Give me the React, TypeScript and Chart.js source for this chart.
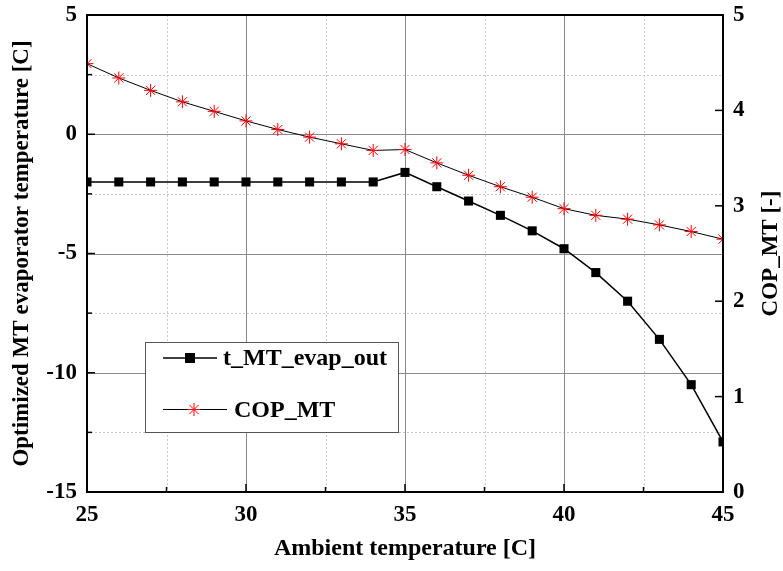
import React, { useEffect, useRef } from 'react';
import { Chart, registerables } from 'chart.js';

Chart.register(...registerables);

const ambientTemps = [25, 26, 27, 28, 29, 30, 31, 32, 33, 34, 35, 36, 37, 38, 39, 40, 41, 42, 43, 44, 45];
const evapTemps = [-2.0, -2.0, -2.0, -2.0, -2.0, -2.0, -2.0, -2.0, -2.0, -2.0, -1.6, -2.2, -2.8, -3.4, -4.05, -4.8, -5.8, -7.0, -8.6, -10.5, -12.9];
const copValues = [4.49, 4.34, 4.21, 4.09, 3.99, 3.89, 3.8, 3.72, 3.65, 3.58, 3.59, 3.45, 3.32, 3.2, 3.09, 2.97, 2.9, 2.86, 2.8, 2.73, 2.65];
const seriesNames = ['t_MT_evap_out', 'COP_MT'];
const xRange = [25, 45];
const leftRange = [-15, 5];
const rightRange = [0, 5];
const xTitle = 'Ambient temperature [C]';
const leftTitle = 'Optimized MT evaporator temperature [C]';
const rightTitle = 'COP_MT [-]';

const FONT = "'Liberation Serif', 'Times New Roman', serif";

const gridPlugin = {
  id: 'customGrid',
  beforeDatasetsDraw(chart: any) {
    const { ctx, chartArea: a, scales } = chart;
    const xs = scales.x, ys = scales.y;
    ctx.save();
    ctx.beginPath();
    ctx.rect(a.left, a.top, a.right - a.left, a.bottom - a.top);
    ctx.clip();
    ctx.strokeStyle = '#c8c8c8';
    ctx.lineWidth = 1;
    ctx.setLineDash([2, 2]);
    for (let v = xRange[0] + 2.5; v < xRange[1]; v += 5) {
      const p = Math.round(xs.getPixelForValue(v)) + 0.5;
      ctx.beginPath(); ctx.moveTo(p, a.top); ctx.lineTo(p, a.bottom); ctx.stroke();
    }
    for (let v = leftRange[0] + 2.5; v < leftRange[1]; v += 5) {
      const p = Math.round(ys.getPixelForValue(v)) + 0.5;
      ctx.beginPath(); ctx.moveTo(a.left, p); ctx.lineTo(a.right, p); ctx.stroke();
    }
    ctx.setLineDash([]);
    ctx.strokeStyle = '#8a8a8a';
    for (let v = xRange[0] + 5; v < xRange[1]; v += 5) {
      const p = Math.round(xs.getPixelForValue(v)) + 0.5;
      ctx.beginPath(); ctx.moveTo(p, a.top); ctx.lineTo(p, a.bottom); ctx.stroke();
    }
    for (let v = leftRange[0] + 5; v < leftRange[1]; v += 5) {
      const p = Math.round(ys.getPixelForValue(v)) + 0.5;
      ctx.beginPath(); ctx.moveTo(a.left, p); ctx.lineTo(a.right, p); ctx.stroke();
    }
    ctx.restore();
  },
  afterDatasetsDraw(chart: any) {
    const { ctx, chartArea: a, scales } = chart;
    const xs = scales.x, ys = scales.y, y1 = scales.y1;
    ctx.save();
    ctx.strokeStyle = '#000';
    ctx.lineWidth = 2;
    ctx.strokeRect(a.left, a.top, a.right - a.left, a.bottom - a.top);
    ctx.lineWidth = 1.5;
    for (let v = xRange[0]; v <= xRange[1]; v += 2.5) {
      const p = xs.getPixelForValue(v);
      const len = v % 5 === 0 ? 8 : 5;
      ctx.beginPath(); ctx.moveTo(p, a.bottom); ctx.lineTo(p, a.bottom - len); ctx.stroke();
    }
    for (let v = leftRange[0]; v <= leftRange[1]; v += 2.5) {
      const p = ys.getPixelForValue(v);
      const len = v % 5 === 0 ? 8 : 5;
      ctx.beginPath(); ctx.moveTo(a.left, p); ctx.lineTo(a.left + len, p); ctx.stroke();
    }
    for (let v = rightRange[0]; v <= rightRange[1]; v += 1) {
      const p = y1.getPixelForValue(v);
      ctx.beginPath(); ctx.moveTo(a.right, p); ctx.lineTo(a.right - 8, p); ctx.stroke();
    }
    ctx.restore();
  },
};

function drawStar(ctx: CanvasRenderingContext2D, x: number, y: number, r: number) {
  ctx.beginPath();
  ctx.moveTo(x - r, y); ctx.lineTo(x + r, y);
  ctx.moveTo(x, y - r); ctx.lineTo(x, y + r);
  const d = r * Math.SQRT1_2;
  ctx.moveTo(x - d, y - d); ctx.lineTo(x + d, y + d);
  ctx.moveTo(x - d, y + d); ctx.lineTo(x + d, y - d);
  ctx.stroke();
}

const legendPlugin = {
  id: 'boxLegend',
  afterDraw(chart: any) {
    const { ctx, chartArea: a } = chart;
    ctx.save();
    ctx.translate(a.right + 48, (a.top + a.bottom) / 2);
    ctx.rotate(-Math.PI / 2);
    ctx.font = `bold 23px ${FONT}`;
    ctx.textAlign = 'center';
    ctx.textBaseline = 'middle';
    ctx.fillStyle = '#000';
    ctx.fillText(rightTitle, 0, 0);
    ctx.restore();

    const x0 = a.left + 58, y0 = a.top + 327, w = 253, h = 90;
    ctx.save();
    ctx.fillStyle = '#fff';
    ctx.fillRect(x0, y0, w, h);
    ctx.strokeStyle = '#555';
    ctx.lineWidth = 1;
    ctx.strokeRect(x0 + 0.5, y0 + 0.5, w, h);
    ctx.font = `bold 24px ${FONT}`;
    ctx.textBaseline = 'middle';
    ctx.textAlign = 'left';
    ctx.fillStyle = '#000';
    const r1 = y0 + 16;
    ctx.strokeStyle = '#000';
    ctx.lineWidth = 1.5;
    ctx.beginPath(); ctx.moveTo(x0 + 18, r1); ctx.lineTo(x0 + 72, r1); ctx.stroke();
    ctx.fillRect(x0 + 45 - 5, r1 - 5, 10, 10);
    ctx.fillText(chart.data.datasets[0].label, x0 + 78, r1 + 1);
    const r2 = Math.round(y0 + 67) + 0.5;
    ctx.lineWidth = 1;
    ctx.beginPath(); ctx.moveTo(x0 + 18, r2); ctx.lineTo(x0 + 82, r2); ctx.stroke();
    ctx.fillStyle = '#fff';
    ctx.fillRect(x0 + 49 - 6, r2 - 6, 12, 12);
    ctx.strokeStyle = '#ff0000';
    drawStar(ctx, x0 + 49, r2, 6.5);
    ctx.fillStyle = '#000';
    ctx.fillText(chart.data.datasets[1].label, x0 + 89, r2 + 1);
    ctx.restore();
  },
};

export default function App() {
  const ref = useRef<HTMLCanvasElement>(null);
  useEffect(() => {
    if (!ref.current) return;
    const tickFont = { family: FONT, size: 23, weight: 'bold' as const };
    const zeroPad = (s: any) => { s.paddingTop = 0; s.paddingBottom = 0; s.paddingLeft = 0; s.paddingRight = 0; };
    const chart = new Chart(ref.current, {
      type: 'line',
      data: {
        datasets: [
          {
            label: seriesNames[0],
            data: ambientTemps.map((x, i) => ({ x, y: evapTemps[i] })),
            yAxisID: 'y',
            borderColor: '#000',
            borderWidth: 1.5,
            pointStyle: 'rect',
            pointRadius: 6.4,
            pointBackgroundColor: '#000',
            pointBorderColor: '#000',
            pointBorderWidth: 0,
            tension: 0,
          },
          {
            label: seriesNames[1],
            data: ambientTemps.map((x, i) => ({ x, y: copValues[i] })),
            yAxisID: 'y1',
            borderColor: '#000',
            borderWidth: 1,
            pointStyle: 'star',
            pointRadius: 6.5,
            pointBackgroundColor: '#ff0000',
            pointBorderColor: '#ff0000',
            pointBorderWidth: 1,
            tension: 0,
          },
        ],
      },
      options: {
        responsive: false,
        animation: false,
        devicePixelRatio: 1,
        layout: { padding: { top: 15, left: 0, right: 0, bottom: 0 } },
        plugins: { legend: { display: false }, tooltip: { enabled: false } },
        scales: {
          x: {
            type: 'linear',
            min: xRange[0],
            max: xRange[1],
            grid: { display: false, drawTicks: false },
            border: { display: false },
            ticks: { stepSize: 5, autoSkip: false, font: tickFont, color: '#000', padding: 9, maxRotation: 0 },
            title: { display: true, text: xTitle, font: { family: FONT, size: 24, weight: 'bold' }, color: '#000', padding: { top: 0, bottom: 8 } },
            afterFit: (s: any) => { s.height = 79; zeroPad(s); },
          },
          y: {
            type: 'linear',
            position: 'left',
            min: leftRange[0],
            max: leftRange[1],
            grid: { display: false, drawTicks: false },
            border: { display: false },
            ticks: { stepSize: 5, font: tickFont, color: '#000', padding: 10 },
            title: { display: true, text: leftTitle, font: { family: FONT, size: 23, weight: 'bold' }, color: '#000', padding: { top: 8, bottom: 0 } },
            afterFit: (s: any) => { s.width = 87; zeroPad(s); },
          },
          y1: {
            type: 'linear',
            position: 'right',
            min: rightRange[0],
            max: rightRange[1],
            grid: { display: false, drawTicks: false },
            border: { display: false },
            ticks: { stepSize: 1, font: tickFont, color: '#000', padding: 10 },
            title: { display: false },
            afterFit: (s: any) => { s.width = 60; zeroPad(s); },
          },
        },
      },
      plugins: [gridPlugin, legendPlugin],
    });
    return () => chart.destroy();
  }, []);
  return (
    <div style={{ position: 'absolute', left: 0, top: 0, width: 783, height: 571, background: '#fff' }}>
      <canvas ref={ref} width={783} height={571} style={{ width: 783, height: 571, display: 'block' }} />
    </div>
  );
}
